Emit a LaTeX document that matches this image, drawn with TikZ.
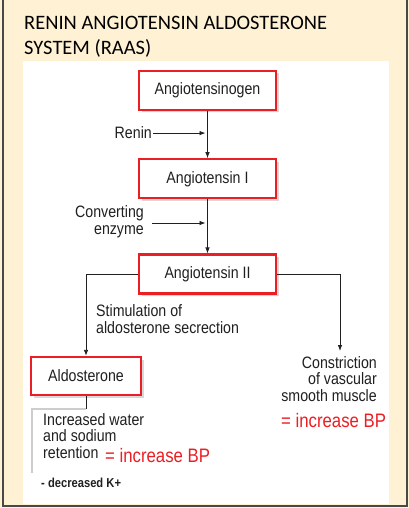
\documentclass[tikz,border=0pt]{standalone}
\usepackage{fontspec}
\setmainfont{Liberation Sans}[FakeStretch=0.86]
\newfontfamily\titlefont{Carlito}
\usepackage{tikz}
\usetikzlibrary{arrows.meta,positioning,shadows}
\definecolor{RAASBeige}{RGB}{255,242,212}
\definecolor{RAASRed}{RGB}{236,30,36}
\definecolor{RAASFrame}{RGB}{72,72,72}
\definecolor{RAASText}{RGB}{32,32,32}
\definecolor{RAASGray}{RGB}{205,205,205}

\begin{document}
\begin{tikzpicture}[
  x=1pt, y=-1pt,
  font=\fontsize{16.5}{16.3}\selectfont,
  stage/.style={
    draw=RAASRed,
    line width=2.3pt,
    fill=white,
    text=RAASText,
    minimum width=137pt,
    minimum height=39pt,
    inner sep=0pt,
    drop shadow={opacity=0.3, shadow xshift=2.5pt, shadow yshift=-2.5pt}
  },
  note/.style={inner sep=0pt, align=left, text=RAASText},
  bp/.style={inner sep=0pt, text=RAASRed, font=\fontsize{19.5}{19.5}\selectfont},
  arrow/.style={-{Latex[length=6pt,width=4.5pt]}, line width=0.8pt, RAASText}
]
% page and panel
\fill[RAASBeige] (0,0) rectangle (409,508);
\useasboundingbox (0,0) rectangle (409,508);
\fill[white] (23,61) rectangle (389,504);
\draw[RAASFrame, line width=2pt] (3,-2) -- (3,506) -- (407,506) -- (407,-2);
\node[anchor=base west, inner sep=0pt, align=left, text=black,
  font=\titlefont\fontsize{20.5}{25}\selectfont] (title) at (24,55)
  {RENIN ANGIOTENSIN ALDOSTERONE\\SYSTEM (RAAS)};

% main chain
\node[stage] (ogen) at (207.5,90.5) {Angiotensinogen};
\node[stage,below=47pt of ogen] (ang1) {Angiotensin I};
\node[stage,below=54pt of ang1] (ang2) {Angiotensin II};
\node[stage,minimum width=110pt,minimum height=38pt] (aldo) at (86,376) {Aldosterone};

% enzymes
\node[note,anchor=base east] (renin) at (152,138) {Renin};
\node[note,anchor=base east,align=right] (conv) at (144,234) {Converting\\enzyme};

% effects
\node[note,anchor=base west] (stim) at (96,333) {Stimulation of\\aldosterone secrection};
\node[note,anchor=base east,align=right] (constr) at (377,401) {Constriction\\of vascular\\smooth muscle};
\node[bp,anchor=base west] (bpright) at (281,427) {= increase BP};
\node[note,anchor=base west] (water) at (43,458) {Increased water\\and sodium\\retention};
\node[bp,anchor=base west] (bpleft) at (105,462) {= increase BP};
\node[note,anchor=base west,font=\bfseries\fontsize{13}{13}\selectfont] (kplus) at (41,487) {- decreased K+};

\coordinate (vsm) at (340,351);
\coordinate (aldostub) at (86,409);
\coordinate (bracketend) at (32,473);

% connectors
\draw[arrow] (ogen) -- (ang1);
\draw[arrow] (ang1) -- (ang2);
\draw[arrow,shorten >=2pt] ([xshift=1pt,yshift=-1pt]renin.east) -- ([yshift=-1pt]renin.east -| ogen.south);
\draw[arrow,shorten >=2pt] ([shift={(8,-11)}]conv.base east) -- ([shift={(0,-11)}]conv.base east -| ang1.south);
\draw[arrow] (ang2.west) -| (aldo.north);
\draw[arrow] (ang2.east) -| (vsm);
\draw[line width=0.8pt,RAASText] (aldo.south) -- (aldostub);
\draw[line width=1.5pt,RAASGray] (aldostub) -| (bracketend);
\end{tikzpicture}
\end{document}
